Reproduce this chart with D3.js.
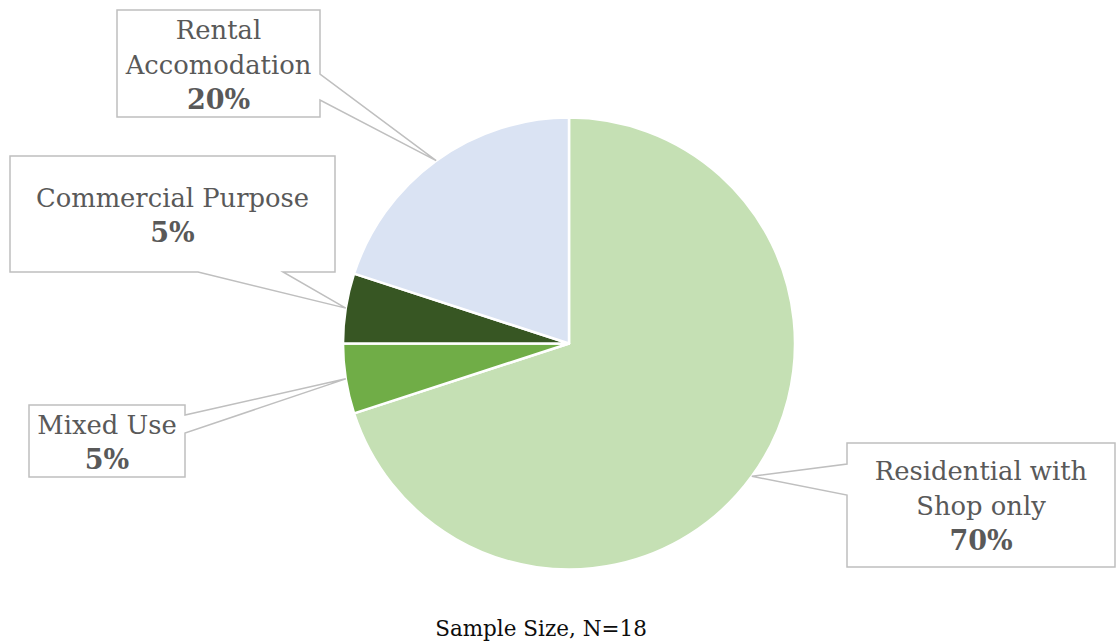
<!DOCTYPE html>
<html>
<head>
<meta charset="utf-8">
<script src="https://cdn.jsdelivr.net/npm/d3@7"></script>
<style>
  html, body { margin: 0; padding: 0; background: #fff; }
  svg { display: block; }
</style>
</head>
<body>
<svg id="chart" width="1116" height="644"></svg>
<script>
// Property use shares (percent), in clockwise order from 12 o'clock
const categories = ["Residential with Shop only", "Mixed Use", "Commercial Purpose", "Rental Accomodation"];
const values = [70, 5, 5, 20];
const labelLines = [["Residential with", "Shop only"], ["Mixed Use"], ["Commercial Purpose"], ["Rental", "Accomodation"]];
const colors = ["#C5E0B4", "#70AD47", "#375623", "#DAE3F3"];
const caption = "Sample Size, N=18";

// Callout boxes: rectangle, side of the pointer and where the pointer joins that side
const callouts = [
  { x: 847, y: 443, w: 268, h: 124, side: "left",   a1: 464, a2: 495 },
  { x: 29,  y: 405, w: 156, h: 72,  side: "right",  a1: 415, a2: 433 },
  { x: 10,  y: 156, w: 325, h: 116, side: "bottom", a1: 198, a2: 283 },
  { x: 117, y: 10,  w: 203, h: 107, side: "right",  a1: 74,  a2: 100 }
];

const svg = d3.select("#chart");
const cx = 569, cy = 343.5, r = 226;
const font = "'DejaVu Serif', Georgia, serif";

const pie = d3.pie().sort(null).value(d => d)(values);
const arc = d3.arc().innerRadius(0).outerRadius(r);

const g = svg.append("g").attr("transform", `translate(${cx},${cy})`);
g.selectAll("path.slice")
  .data(pie)
  .join("path")
  .attr("class", "slice")
  .attr("d", arc)
  .attr("fill", (d, i) => colors[i])
  .attr("stroke", "#fff")
  .attr("stroke-width", 2.5)
  .attr("stroke-linejoin", "round");

// Point on the rim at each slice's middle angle
function rimPoint(d) {
  const a = (d.startAngle + d.endAngle) / 2;
  return [cx + r * Math.sin(a), cy - r * Math.cos(a)];
}

function calloutPath(c, tip) {
  const { x, y, w, h } = c;
  const p = d3.path();
  if (c.side === "right") {
    p.moveTo(x, y); p.lineTo(x + w, y); p.lineTo(x + w, c.a1);
    p.lineTo(tip[0], tip[1]); p.lineTo(x + w, c.a2);
    p.lineTo(x + w, y + h); p.lineTo(x, y + h); p.closePath();
  } else if (c.side === "left") {
    p.moveTo(x, y); p.lineTo(x + w, y); p.lineTo(x + w, y + h); p.lineTo(x, y + h);
    p.lineTo(x, c.a2); p.lineTo(tip[0], tip[1]); p.lineTo(x, c.a1); p.closePath();
  } else {
    p.moveTo(x, y); p.lineTo(x + w, y); p.lineTo(x + w, y + h);
    p.lineTo(c.a2, y + h); p.lineTo(tip[0], tip[1]); p.lineTo(c.a1, y + h);
    p.lineTo(x, y + h); p.closePath();
  }
  return p.toString();
}

const lineH = 35;
pie.forEach((d, i) => {
  const c = callouts[i];
  const tip = rimPoint(d);
  svg.append("path")
    .attr("d", calloutPath(c, tip))
    .attr("fill", "#fff")
    .attr("stroke", "#BFBFBF")
    .attr("stroke-width", 1.5);

  const lines = labelLines[i].concat([values[i] + "%"]);
  const n = lines.length;
  const mx = c.x + c.w / 2, my = c.y + c.h / 2;
  const t = svg.append("text")
    .attr("text-anchor", "middle")
    .attr("font-family", font)
    .attr("font-size", 25.8)
    .attr("fill", "#595959");
  lines.forEach((s, k) => {
    t.append("tspan")
      .attr("x", mx)
      .attr("y", my + (k - (n - 1) / 2) * lineH + 10)
      .attr("font-weight", k === n - 1 ? "bold" : "normal")
      .attr("font-size", k === n - 1 ? 27 : null)
      .text(s);
  });
});

svg.append("text")
  .attr("x", 541)
  .attr("y", 636)
  .attr("text-anchor", "middle")
  .attr("font-family", font)
  .attr("font-size", 21.5)
  .attr("fill", "#0D0D0D")
  .text(caption);
</script>
</body>
</html>
